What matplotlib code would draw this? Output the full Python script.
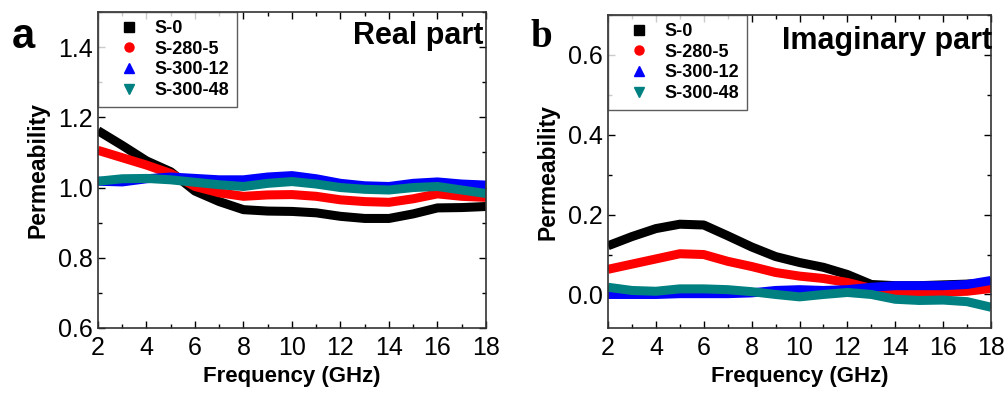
import matplotlib
matplotlib.use("Agg")
import matplotlib.pyplot as plt
from matplotlib.lines import Line2D
from matplotlib.ticker import MultipleLocator

plt.rcParams['font.family'] = ['Liberation Sans', 'DejaVu Sans']

freq = [2, 3, 4, 5, 6, 7, 8, 9, 10, 11, 12, 13, 14, 15, 16, 17, 18]
labels = ["S-0", "S-280-5", "S-300-12", "S-300-48"]
colors = ["#000000", "#ff0000", "#0000ff", "#008080"]
markers = ["s", "o", "^", "v"]

real_s0 = [1.162, 1.12, 1.076, 1.045, 0.99, 0.96, 0.937, 0.933, 0.932, 0.928, 0.918, 0.912, 0.912, 0.925, 0.942, 0.943, 0.946]
real_s280 = [1.106, 1.085, 1.064, 1.04, 1.003, 0.985, 0.975, 0.979, 0.98, 0.975, 0.965, 0.96, 0.958, 0.968, 0.982, 0.975, 0.972]
real_s300_12 = [1.018, 1.016, 1.025, 1.03, 1.026, 1.022, 1.022, 1.03, 1.034, 1.025, 1.012, 1.005, 1.003, 1.012, 1.016, 1.01, 1.007]
real_s300_48 = [1.018, 1.025, 1.026, 1.022, 1.015, 1.008, 1.003, 1.012, 1.017, 1.01, 1.0, 0.995, 0.993, 1.0, 1.003, 0.993, 0.983]

imag_s0 = [0.122, 0.145, 0.165, 0.176, 0.174, 0.147, 0.119, 0.095, 0.08, 0.068, 0.05, 0.025, 0.022, 0.022, 0.024, 0.026, 0.03]
imag_s280 = [0.063, 0.076, 0.089, 0.102, 0.1, 0.083, 0.07, 0.055, 0.046, 0.04, 0.03, 0.015, 0.005, 0.005, 0.006, 0.008, 0.015]
imag_s300_12 = [0.0, 0.0, 0.0, 0.002, 0.002, 0.002, 0.004, 0.01, 0.012, 0.01, 0.012, 0.018, 0.022, 0.022, 0.022, 0.025, 0.035]
imag_s300_48 = [0.018, 0.01, 0.008, 0.014, 0.014, 0.012, 0.007, 0.0, -0.006, 0.0, 0.005, 0.0, -0.012, -0.015, -0.014, -0.018, -0.032]

fig = plt.figure(figsize=(10.06, 3.93), dpi=100)
ax1 = fig.add_axes([0.0974, 0.1654, 0.3857, 0.8041])
ax2 = fig.add_axes([0.6044, 0.1654, 0.3807, 0.7964])

def style(ax, ylim, yticks, yminor):
    ax.set_xlim(2, 18)
    ax.set_ylim(*ylim)
    ax.xaxis.set_major_locator(MultipleLocator(2))
    ax.xaxis.set_minor_locator(MultipleLocator(1))
    ax.set_yticks(yticks)
    ax.yaxis.set_minor_locator(MultipleLocator(yminor))
    ax.tick_params(which='both', direction='in', top=True, right=True, labelsize=18)
    ax.tick_params(axis='x', pad=6)
    ax.tick_params(axis='y', pad=4)
    ax.tick_params(which='major', length=5, width=1)
    ax.tick_params(which='minor', length=3, width=1)
    for s in ax.spines.values():
        s.set_linewidth(1.2)
        s.set_color('#333333')
    ax.set_xlabel("Frequency (GHz)", fontsize=16, fontweight='bold', labelpad=4)
    ax.set_ylabel("Permeability", fontsize=16.5, fontweight='bold', labelpad=6)
    handles = [Line2D([], [], ls='none', marker=m, color=c, markersize=6.5)
               for m, c in zip(markers, colors)]
    leg = ax.legend(handles, labels, loc='upper left',
                    prop={'weight': 'bold', 'size': 13}, frameon=True,
                    fancybox=False, borderaxespad=0, handlelength=2.5,
                    handletextpad=0.15, borderpad=0.45, labelspacing=0.2)
    leg.get_frame().set_edgecolor('#333333')
    leg.get_frame().set_linewidth(1.0)

for ys, c in zip([real_s0, real_s280, real_s300_12, real_s300_48], colors):
    ax1.plot(freq, ys, color=c, lw=6.5, solid_capstyle='butt', solid_joinstyle='round')
for ys, c in zip([imag_s0, imag_s280, imag_s300_12, imag_s300_48], colors):
    ax2.plot(freq, ys, color=c, lw=6.5, solid_capstyle='butt', solid_joinstyle='round')

style(ax1, (0.6, 1.5), [0.6, 0.8, 1.0, 1.2, 1.4], 0.1)
style(ax2, (-0.084, 0.7), [0.0, 0.2, 0.4, 0.6], 0.1)

ax1.text(0.993, 0.97, "Real part", transform=ax1.transAxes, ha='right', va='top',
         fontsize=22, fontweight='bold')
ax2.text(1.002, 0.965, "Imaginary part", transform=ax2.transAxes, ha='right', va='top',
         fontsize=22, fontweight='bold')

fig.text(0.012, 0.905, "a", fontsize=30, fontweight='bold', ha='left', va='center')
fig.text(0.527, 0.905, "b", fontsize=28, fontweight='bold', ha='left', va='center',
         family=['Liberation Serif', 'DejaVu Serif'])

fig.savefig("out.png", dpi=100)
